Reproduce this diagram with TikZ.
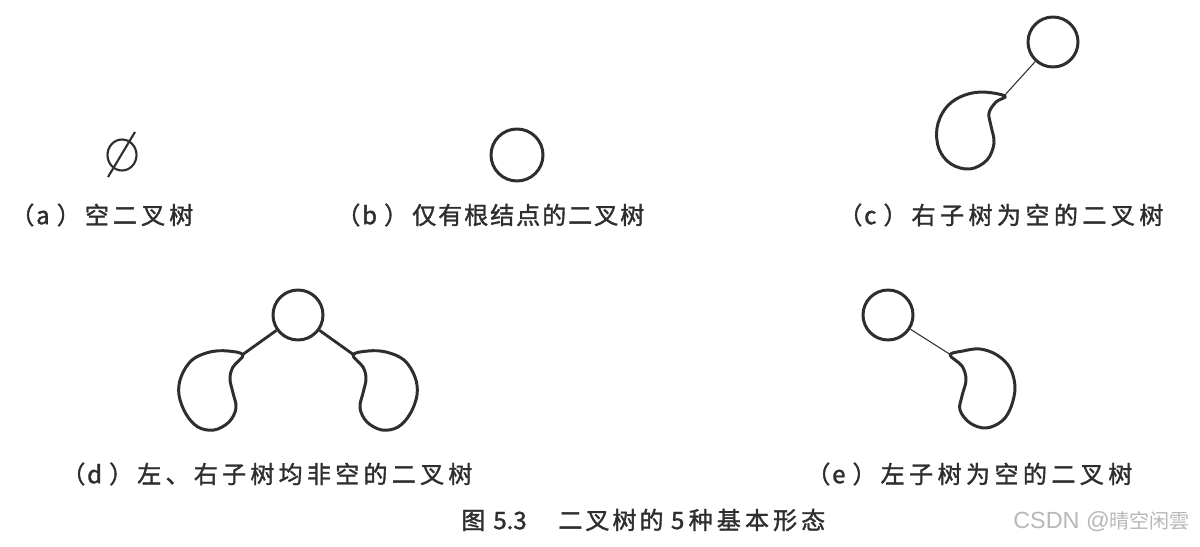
\documentclass[tikz,border=0pt]{standalone}
\usepackage{fontspec}
\usetikzlibrary{shapes.geometric}
\newfontfamily\cjk[FakeBold=1.4]{Noto Sans CJK SC}
\newfontfamily\cjkplain{Noto Sans CJK SC}
\newfontfamily\wmlatin{Liberation Sans}
\definecolor{ink}{HTML}{2E2E2E}
\definecolor{wm}{HTML}{B8B8B8}
\newcommand\gapchars[2]{\def\gapamt{#1}\gapcharsi#2\relax}
\def\gapcharsi#1{\ifx#1\relax\else#1\hskip\gapamt\relax\expandafter\gapcharsi\fi}
\newcommand\lbltag[1]{（\hskip1pt #1\hskip4pt）\hskip2.3pt}
\tikzset{
  outline/.style={draw=ink, line width=1.7pt, line join=round},
  treenode/.style={circle, draw=ink, line width=1.7pt, minimum size=1cm, inner sep=0pt},
  thinedge/.style={draw=ink, line width=0.6pt},
  thickedge/.style={draw=ink, line width=1.6pt},
  lbl/.style={anchor=west, inner sep=0pt, text=ink, font=\cjk\fontsize{13.7pt}{16pt}\selectfont},
  captiontext/.style={anchor=west, inner sep=0pt, text=ink, font=\cjk\fontsize{13.7pt}{16pt}\selectfont},
  wmark/.style={anchor=west, inner sep=0pt, text=wm}
}
\begin{document}
\begin{tikzpicture}[x=0.02cm, y=-0.02cm]
\useasboundingbox[fill=white] (0,0) rectangle (1200,547);

% (a) empty tree symbol
\node[ellipse, draw=ink, line width=1.2pt, minimum width=0.58cm, minimum height=0.62cm, inner sep=0pt] (emptyset) at (122,155) {};
\coordinate (slashA) at (108,177);
\coordinate (slashB) at (135,132);
\draw[draw=ink, line width=1.2pt] (slashA) -- (slashB);

% (b) root only
\node[treenode, minimum size=1.04cm] (broot) at (517,155) {};

% (c) right subtree empty
\node[treenode] (croot) at (1053,42) {};
\coordinate (cjoin) at (1004,96);
\draw[outline] plot[smooth cycle, tension=0.6] coordinates {(1005,96) (981,92) (960,97) (945,109) (937,128) (939,149) (951,164) (970,169) (987,160) (994,143) (991,126) (989,113) (996,102)};
\draw[thinedge] (croot) -- (cjoin);

% (d) both subtrees non-empty
\node[treenode] (droot) at (298,315) {};
\coordinate (dljoin) at (242,355);
\coordinate (drjoin) at (354,355);
\draw[outline] plot[smooth cycle, tension=0.6] coordinates {(243,355) (228,351) (210,352) (192,360) (181,377) (179,395) (186,414) (198,427) (214,430) (229,422) (236,408) (233,393) (230,379) (233,367)};
\draw[outline] plot[smooth cycle, tension=0.6] coordinates {(353,355) (368,351) (386,352) (404,360) (415,377) (417,395) (410,414) (398,427) (382,430) (367,422) (360,408) (363,393) (366,379) (363,367)};
\draw[thickedge] (droot) -- (dljoin);
\draw[thickedge] (droot) -- (drjoin);

% (e) left subtree empty
\node[treenode] (eroot) at (888,315) {};
\coordinate (ejoin) at (951,355);
\draw[outline] plot[smooth cycle, tension=0.6] coordinates {(950,355) (963,351) (980,349) (997,355) (1010,368) (1015,387) (1011,407) (1002,421) (986,428) (970,423) (960,410) (962,396) (966,380) (962,366)};
\draw[thinedge] (eroot) -- (ejoin);

% labels
\node[lbl] (la) at (10,215) {\lbltag{a}\gapchars{2.3pt}{空二叉树}};
\node[lbl] (lb) at (336,215) {\lbltag{b}\gapchars{1.1pt}{仅有根结点的二叉树}};
\node[lbl] (lc) at (838,215) {\lbltag{c}\gapchars{2.5pt}{右子树为空的二叉树}};
\node[lbl] (ld) at (61,474) {\lbltag{d}\gapchars{2.4pt}{左、右子树均非空的二叉树}};
\node[lbl] (le) at (806,474) {\lbltag{e}\gapchars{2.5pt}{左子树为空的二叉树}};

% caption
\node[captiontext] (caption) at (461,520) {图\hskip4.5pt 5.3\hskip18pt\gapchars{1.7pt}{二叉树的}\hskip2.5pt 5\hskip2.5pt\gapchars{2.3pt}{种基本形态}};

% watermark
\node[wmark] (watermark) at (1013,522) {\wmlatin\fontsize{13.3pt}{15pt}\selectfont CSDN @\cjkplain\fontsize{11.4pt}{13pt}\selectfont 晴空闲雲};
\end{tikzpicture}
\end{document}
